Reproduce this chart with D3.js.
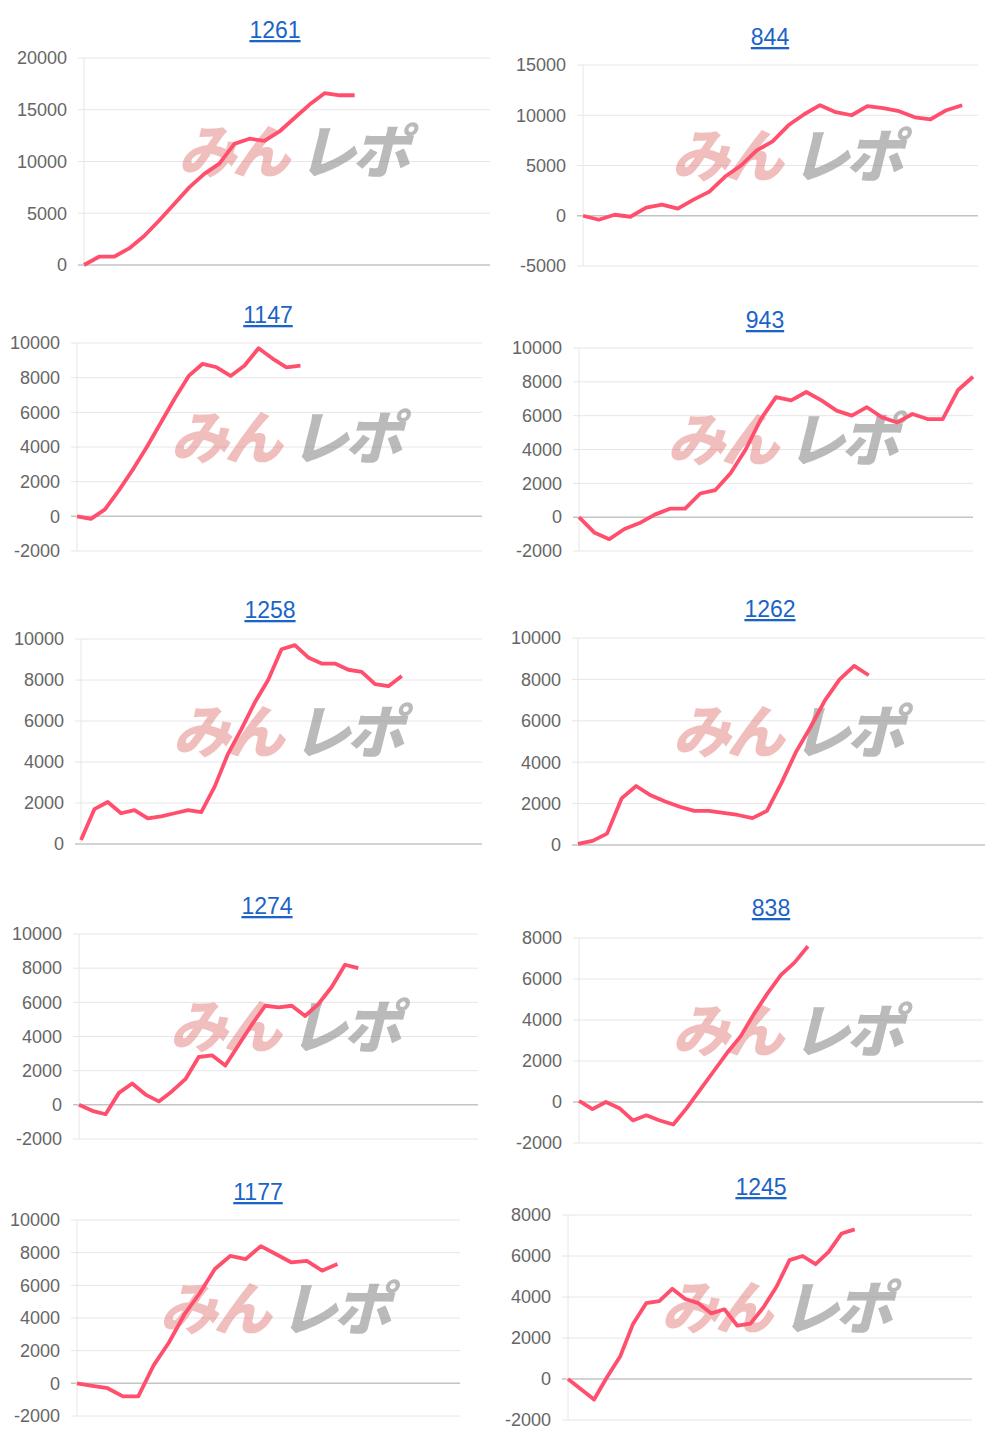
<!DOCTYPE html>
<html>
<meta charset="utf-8">
<script src="https://d3js.org/d3.v7.min.js"></script>
<style>
  body { margin: 0; background: #fff; }
  svg { font-family: "Liberation Sans", Arial, sans-serif; }
</style>
<body>
<div id="my_dataviz"></div>
<script>

// machine numbers (titles)
var titles = ["1261", "844", "1147", "943", "1258", "1262", "1274", "838", "1177", "1245"];

// slot counts on each x axis
var slots = [28, 26, 30, 27, 31, 29, 31, 31, 26, 32];

// y tick values per chart
var yTicks = [
  [0, 5000, 10000, 15000, 20000],
  [-5000, 0, 5000, 10000, 15000],
  [-2000, 0, 2000, 4000, 6000, 8000, 10000],
  [-2000, 0, 2000, 4000, 6000, 8000, 10000],
  [0, 2000, 4000, 6000, 8000, 10000],
  [0, 2000, 4000, 6000, 8000, 10000],
  [-2000, 0, 2000, 4000, 6000, 8000, 10000],
  [-2000, 0, 2000, 4000, 6000, 8000],
  [-2000, 0, 2000, 4000, 6000, 8000, 10000],
  [-2000, 0, 2000, 4000, 6000, 8000]
];

// series values
var s1261 = [0, 800, 800, 1600, 2800, 4300, 5900, 7500, 8800, 9800, 11700, 12200, 12000, 12900, 14200, 15500, 16600, 16400, 16400];
var s844 = [0, -400, 100, -100, 800, 1100, 700, 1600, 2400, 3900, 5000, 6500, 7400, 9000, 10100, 11000, 10300, 10000, 10900, 10700, 10400, 9800, 9600, 10500, 11000];
var s1147 = [0, -150, 400, 1500, 2700, 4000, 5400, 6800, 8100, 8800, 8600, 8100, 8700, 9700, 9100, 8600, 8700];
var s943 = [0, -900, -1300, -700, -350, 150, 500, 500, 1400, 1600, 2600, 4000, 5800, 7100, 6900, 7400, 6900, 6300, 6000, 6500, 5900, 5600, 6100, 5800, 5800, 7500, 8300];
var s1258 = [200, 1700, 2050, 1500, 1650, 1250, 1350, 1500, 1650, 1550, 2800, 4400, 5600, 6900, 8000, 9500, 9700, 9100, 8800, 8800, 8500, 8400, 7800, 7700, 8200];
var s1262 = [50, 200, 550, 2250, 2850, 2400, 2100, 1850, 1650, 1650, 1550, 1450, 1300, 1650, 3000, 4500, 5700, 7000, 8000, 8650, 8200];
var s1274 = [0, -350, -550, 700, 1250, 600, 200, 800, 1500, 2800, 2900, 2300, 3500, 4700, 5800, 5700, 5800, 5200, 5900, 6900, 8200, 8000];
var s838 = [50, -350, 0, -300, -900, -650, -900, -1100, -300, 600, 1500, 2400, 3200, 4300, 5300, 6200, 6800, 7600];
var s1177 = [0, -150, -300, -800, -800, 1100, 2500, 4200, 5500, 7000, 7800, 7600, 8400, 7900, 7400, 7500, 6900, 7300];
var s1245 = [0, -500, -1000, 100, 1100, 2700, 3700, 3800, 4400, 3900, 3700, 3200, 3400, 2600, 2700, 3500, 4500, 5800, 6000, 5600, 6200, 7100, 7300];
var series = [s1261, s844, s1147, s943, s1258, s1262, s1274, s838, s1177, s1245];

// panel frames: title position, plot box
var frames = [
  {tx: 275, ty: 38,   l: 84,  r: 490, t: 58,   b: 265},
  {tx: 770, ty: 45,   l: 583, r: 978, t: 65,   b: 266},
  {tx: 268, ty: 323,  l: 77,  r: 482, t: 343,  b: 551},
  {tx: 765, ty: 328,  l: 579, r: 973, t: 348,  b: 551},
  {tx: 270, ty: 618,  l: 81,  r: 482, t: 639,  b: 844},
  {tx: 770, ty: 617,  l: 578, r: 985, t: 638,  b: 845},
  {tx: 267, ty: 914,  l: 79,  r: 478, t: 934,  b: 1139},
  {tx: 771, ty: 916,  l: 579, r: 983, t: 938,  b: 1143},
  {tx: 258, ty: 1200, l: 77,  r: 460, t: 1220, b: 1416},
  {tx: 761, ty: 1195, l: 568, r: 972, t: 1215, b: 1420}
];

var svg = d3.select("#my_dataviz").append("svg")
  .attr("width", 1000).attr("height", 1442);

series.forEach(function(data, i) {
  var f = frames[i];
  var ticks = yTicks[i];
  var x = d3.scaleLinear().domain([0, slots[i] - 1]).range([f.l, f.r]);
  var y = d3.scaleLinear().domain([ticks[0], ticks[ticks.length - 1]]).range([f.b, f.t]);
  var g = svg.append("g");

  // grid
  g.selectAll("line.grid").data(ticks).enter().append("line")
    .attr("x1", f.l - 6).attr("x2", f.r)
    .attr("y1", function(d) { return y(d); }).attr("y2", function(d) { return y(d); })
    .attr("stroke", function(d) { return d === 0 ? "#c4c4c4" : "#e6e6e6"; })
    .attr("stroke-width", function(d) { return d === 0 ? 1.5 : 1; });
  g.append("line").attr("x1", f.l).attr("x2", f.l).attr("y1", f.t).attr("y2", f.b)
    .attr("stroke", "#e6e6e6");

  // y labels
  g.selectAll("text.tick").data(ticks).enter().append("text")
    .attr("x", f.l - 17).attr("y", function(d) { return y(d); })
    .attr("dy", "0.35em").attr("text-anchor", "end")
    .style("font-size", "18px").style("fill", "#666")
    .text(function(d) { return d; });

  // watermark
  var cx = (f.l + f.r) / 2 + 10, cy = (f.t + f.b) / 2 - 8;
  var wm = g.append("text").attr("x", cx).attr("y", cy + 20)
    .attr("text-anchor", "middle")
    .attr("transform", "skewX(-14) translate(" + (cy * 0.2493) + ",0)")
    .style("font-size", "58px").style("font-weight", "900")
    .style("font-family", "'Noto Sans CJK JP', sans-serif")
    .style("letter-spacing", "-4px");
  wm.append("tspan").attr("fill", "rgba(225,110,110,0.45)").text("みん");
  wm.append("tspan").attr("fill", "rgba(140,140,140,0.6)").attr("dx", 12).text("レポ");

  // line
  g.append("path").datum(data)
    .attr("fill", "none").attr("stroke", "#ff4f6d").attr("stroke-width", 3.8)
    .attr("stroke-linejoin", "round")
    .attr("d", d3.line().x(function(d, j) { return x(j); }).y(function(d) { return y(d); }));

  // title
  g.append("text").attr("x", f.tx).attr("y", f.ty).attr("text-anchor", "middle")
    .style("font-size", "23px").style("fill", "#1a64c8")
    .style("text-decoration", "underline").text(titles[i]);
});

</script>
</body>
</html>
